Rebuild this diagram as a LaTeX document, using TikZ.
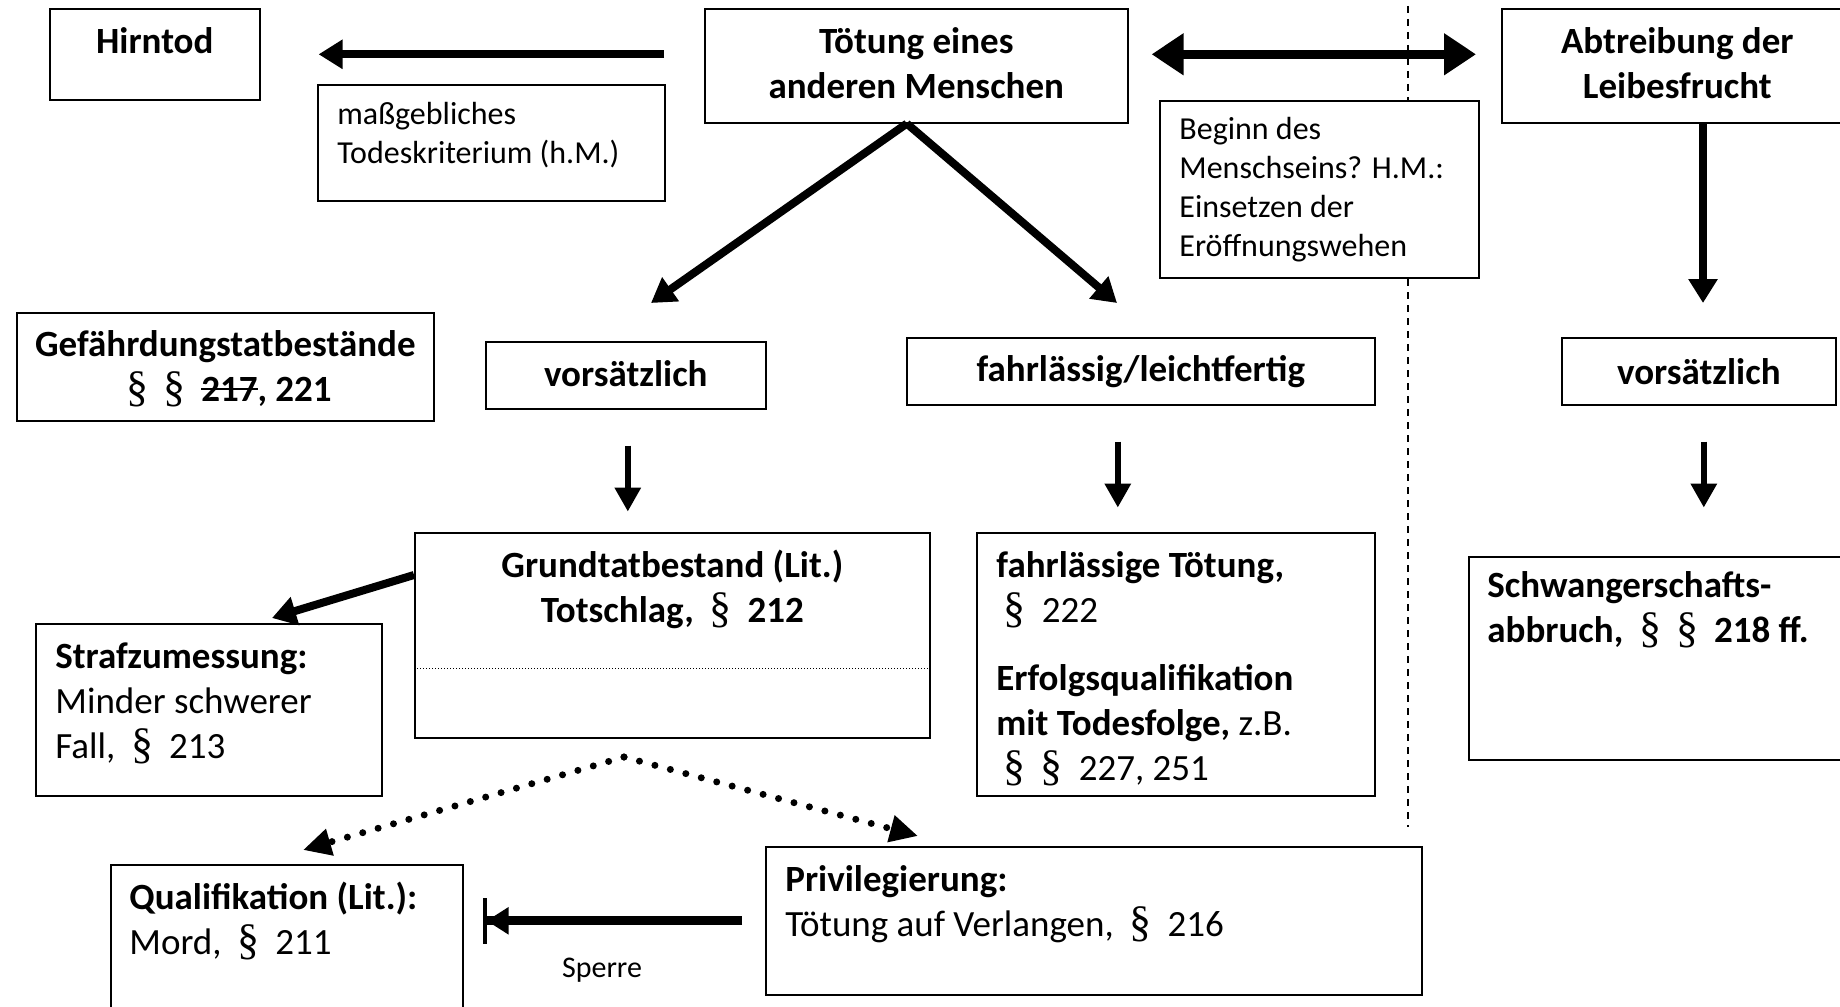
\documentclass[tikz,border=0pt]{standalone}
\usepackage{fontspec}
\setmainfont{Carlito}
\newfontfamily\parfont{Liberation Serif}
\usetikzlibrary{arrows.meta,positioning}
\newcommand{\pa}{\hspace{0.1em}\makebox[0.8em]{\parfont\mdseries\fontsize{22}{22}\selectfont §}\hspace{0.1em}}
\newsavebox\strikebox
\newcommand{\strike}[1]{\sbox\strikebox{#1}\rlap{\rule[0.3em]{\wd\strikebox}{1.3pt}}\usebox\strikebox}

\tikzset{
  box/.style={draw, fill=white, line width=0.8pt, inner sep=0pt, anchor=north west},
  head/.style={inner sep=0pt, align=center, font=\fontsize{18.5}{22.5}\selectfont\bfseries},
  body/.style={inner sep=0pt, align=left, font=\fontsize{18.5}{22.5}\selectfont},
  note/.style={inner sep=0pt, align=left, font=\fontsize{16}{19.5}\selectfont},
  bigarr/.style={line width=4pt, -{Triangle[length=12pt,width=14pt]}},
  dblarr/.style={line width=4.5pt, {Triangle[length=16pt,width=20pt]}-{Triangle[length=16pt,width=20pt]}},
  midarr/.style={line width=3pt, -{Triangle[length=12pt,width=12.5pt]}},
  dotarr/.style={line width=3.5pt, line cap=round, dash pattern=on 0pt off 8pt, -{Triangle[length=14pt,width=13pt]}},
  sperrarr/.style={line width=4.5pt, -{Triangle[length=11pt,width=13pt,sep=0pt] Bar[width=23pt,line width=2pt]}},
  sepline/.style={line width=0.7pt, dash pattern=on 3.5pt off 3pt}
}

\begin{document}
\begin{tikzpicture}[x=0.5pt,y=-0.5pt]
\useasboundingbox (0,0) rectangle (1840,1006);
% Trennlinie Mensch / Leibesfrucht
\draw[sepline] (1408,6) -- (1408,827);
% Kaesten
\foreach \n/\xa/\ya/\xb/\yb in {hirn/49/8/259/99, todes/317/84/664/200, toet/704/8/1127/122,
    beginn/1159/100/1478/277, abtr/1501/8/1842/122, gef/16/312/433/420, vors1/485/341/765/408,
    fahrl/906/337/1374/404, vors2/1561/337/1835/404, grund/414/532/929/737, fahrt/976/532/1374/795,
    schw/1468/556/1842/759, straf/35/623/381/795, qual/110/864/462/1014, priv/765/846/1421/994}
  \node[box, minimum width={(\xb-\xa)*0.5pt}, minimum height={(\yb-\ya)*0.5pt}] (\n) at (\xa,\ya) {};
\draw[line width=0.5pt, densely dotted] ([yshift=-68pt]grund.north west) -- ([yshift=-68pt]grund.north east);

% Texte
\node[head, below=9.5pt of hirn.north] (t-hirn) {Hirntod};
\node[note, below right=9pt and 10pt of todes.north west] (t-todes) {maßgebliches\\Todeskriterium (h.M.)};
\node[head, below=9.5pt of toet.north] (t-toet) {Tötung eines\\anderen Menschen};
\node[note, below right=8.5pt and 10pt of beginn.north west] (t-beginn) {Beginn des\\Menschseins? H.M.:\\Einsetzen der\\Eröffnungswehen};
\node[head, below=9.5pt of abtr.north, xshift=2.5pt] (t-abtr) {Abtreibung der\\Leibesfrucht};
\node[head, below=9pt of gef.north] (t-gef) {Gefährdungstatbestände\\\pa\pa~\strike{217}, 221};
\node[head, yshift=1pt] (t-vors1) at (vors1) {vorsätzlich};
\node[head] (t-fahrl) at (fahrl) {fahrlässig/leichtfertig};
\node[head] (t-vors2) at (vors2) {vorsätzlich};
\node[head, below=9pt of grund.north] (t-grund) {Grundtatbestand (Lit.)\\Totschlag,~\pa~212};
\node[body, below right=9.5pt and 10pt of fahrt.north west] (t-fahrt)
  {\textbf{fahrlässige Tötung,}\\\pa~222\\[11.5pt]\textbf{Erfolgsqualifikation}\\\textbf{mit Todesfolge,} z.B.\\\pa\pa~227, 251};
\node[head, align=left, below right=7.5pt and 9.5pt of schw.north west] (t-schw) {Schwangerschafts-\\abbruch,~\pa\pa~218 ff.};
\node[body, below right=9.5pt and 10pt of straf.north west] (t-straf) {\textbf{Strafzumessung:}\\Minder schwerer\\Fall,~\pa~213};
\node[body, below right=9pt and 9.5pt of qual.north west] (t-qual) {\textbf{Qualifikation (Lit.):}\\Mord,~\pa~211};
\node[body, below right=9.5pt and 10pt of priv.north west] (t-priv) {\textbf{Privilegierung:}\\Tötung auf Verlangen,~\pa~216};
\node[inner sep=0pt, font=\fontsize{15}{18}\selectfont] (sperre) at (602,970) {Sperre};

% freie Pfeilenden
\coordinate (vl-end) at (651,303);
\coordinate (fl-end) at (1117,303);
\coordinate (ab-end) at (1703,303);
\coordinate (apex) at (624,757);
\coordinate (ql-end) at (303,850);
\coordinate (pr-end) at (918,836);
\coordinate (st-end) at (272,618);

% Pfeile
\draw[bigarr, shorten <=20pt, shorten >=29pt] (toet.west |- hirn.east) -- (hirn.east);
\draw[dblarr, shorten <=11.5pt, shorten >=12.5pt] (toet.east |- hirn.east) -- (abtr.west |- hirn.east);
\draw[bigarr] ([xshift=-4.75pt]toet.south) -- (vl-end);
\draw[bigarr] ([xshift=-4.75pt]toet.south) -- (fl-end);
\draw[bigarr] (abtr.south -| ab-end) -- (ab-end);
\foreach \a/\dx in {vors1/1pt, fahrl/-11.5pt, vors2/2.5pt}
  \draw[midarr] ([xshift=\dx,yshift=-18pt]\a.south) -- ([xshift=\dx,yshift=-51pt]\a.south);
\draw[bigarr] ([yshift=-21.5pt]grund.north west) -- (st-end);
\draw[dotarr] (apex) -- (ql-end);
\draw[dotarr] (apex) -- (pr-end);
\draw[sperrarr, shorten <=11.5pt, shorten >=9.5pt] (priv.west) -- (qual.east |- priv.west);
\end{tikzpicture}
\end{document}
